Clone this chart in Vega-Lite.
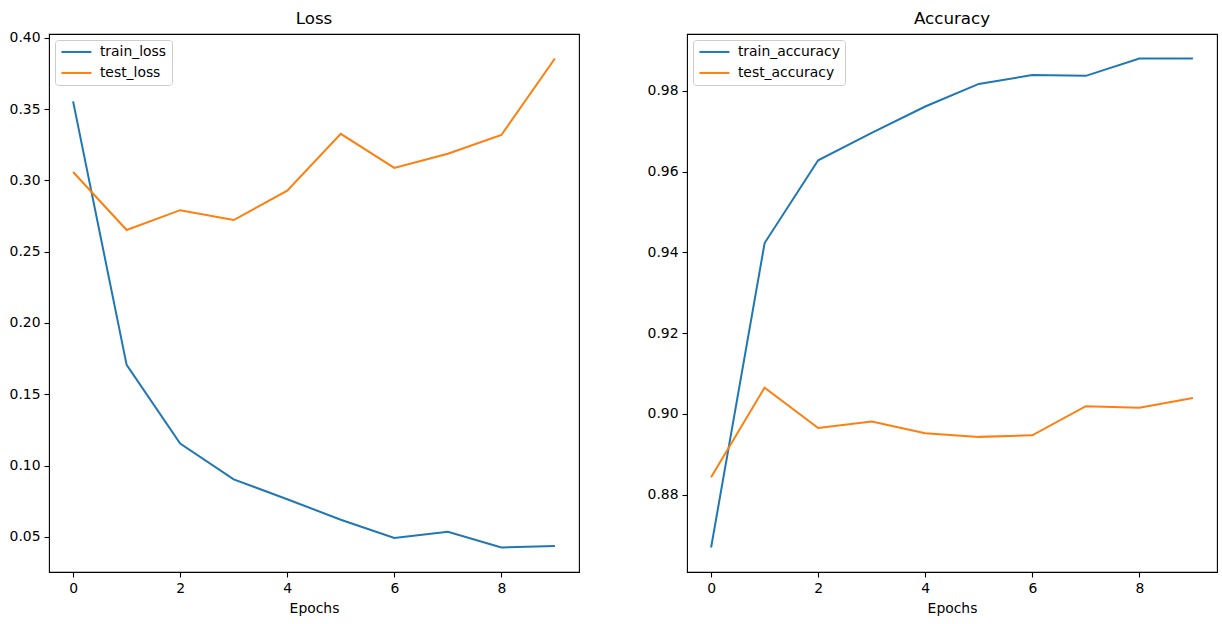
{
  "$schema": "https://vega.github.io/schema/vega-lite/v6.json",
  "background": "white",
  "padding": {"left": 8, "top": 10, "right": 8, "bottom": 5},
  "config": {
    "font": "DejaVu Sans",
    "view": {"stroke": "black", "strokeWidth": 1.1},
    "axis": {"grid": false, "domain": false, "tickColor": "black", "tickSize": 5, "tickWidth": 1.1, "labelColor": "black", "labelFontSize": 13.9, "titleFontSize": 13.9, "titleFontWeight": "normal", "titleColor": "black", "labelPadding": 4, "titlePadding": 7},
    "title": {"fontSize": 16.7, "fontWeight": "normal", "anchor": "middle", "baseline": "alphabetic", "frame": "group", "color": "black"},
    "legend": {"symbolType": "M-1,0H4.45", "symbolStrokeWidth": 2, "symbolSize": 121, "labelFontSize": 13.9, "labelColor": "black", "strokeColor": "#cccccc", "cornerRadius": 3, "padding": 5, "offset": 6, "rowPadding": 6, "labelOffset": 26, "fillColor": "white"}
  },
  "datasets": {
    "d": [
      {"panel": "Loss", "series": "train_loss", "epoch": 0, "value": 0.3554},
      {"panel": "Loss", "series": "train_loss", "epoch": 1, "value": 0.1706},
      {"panel": "Loss", "series": "train_loss", "epoch": 2, "value": 0.1154},
      {"panel": "Loss", "series": "train_loss", "epoch": 3, "value": 0.0903},
      {"panel": "Loss", "series": "train_loss", "epoch": 4, "value": 0.0764},
      {"panel": "Loss", "series": "train_loss", "epoch": 5, "value": 0.0620},
      {"panel": "Loss", "series": "train_loss", "epoch": 6, "value": 0.0492},
      {"panel": "Loss", "series": "train_loss", "epoch": 7, "value": 0.0536},
      {"panel": "Loss", "series": "train_loss", "epoch": 8, "value": 0.0425},
      {"panel": "Loss", "series": "train_loss", "epoch": 9, "value": 0.0436},
      {"panel": "Loss", "series": "test_loss", "epoch": 0, "value": 0.3059},
      {"panel": "Loss", "series": "test_loss", "epoch": 1, "value": 0.2652},
      {"panel": "Loss", "series": "test_loss", "epoch": 2, "value": 0.2791},
      {"panel": "Loss", "series": "test_loss", "epoch": 3, "value": 0.2722},
      {"panel": "Loss", "series": "test_loss", "epoch": 4, "value": 0.2928},
      {"panel": "Loss", "series": "test_loss", "epoch": 5, "value": 0.3326},
      {"panel": "Loss", "series": "test_loss", "epoch": 6, "value": 0.3087},
      {"panel": "Loss", "series": "test_loss", "epoch": 7, "value": 0.3187},
      {"panel": "Loss", "series": "test_loss", "epoch": 8, "value": 0.3318},
      {"panel": "Loss", "series": "test_loss", "epoch": 9, "value": 0.3855},
      {"panel": "Accuracy", "series": "train_accuracy", "epoch": 0, "value": 0.8669},
      {"panel": "Accuracy", "series": "train_accuracy", "epoch": 1, "value": 0.9423},
      {"panel": "Accuracy", "series": "train_accuracy", "epoch": 2, "value": 0.9628},
      {"panel": "Accuracy", "series": "train_accuracy", "epoch": 3, "value": 0.9696},
      {"panel": "Accuracy", "series": "train_accuracy", "epoch": 4, "value": 0.9761},
      {"panel": "Accuracy", "series": "train_accuracy", "epoch": 5, "value": 0.9817},
      {"panel": "Accuracy", "series": "train_accuracy", "epoch": 6, "value": 0.9839},
      {"panel": "Accuracy", "series": "train_accuracy", "epoch": 7, "value": 0.9837},
      {"panel": "Accuracy", "series": "train_accuracy", "epoch": 8, "value": 0.9880},
      {"panel": "Accuracy", "series": "train_accuracy", "epoch": 9, "value": 0.9880},
      {"panel": "Accuracy", "series": "test_accuracy", "epoch": 0, "value": 0.8843},
      {"panel": "Accuracy", "series": "test_accuracy", "epoch": 1, "value": 0.9065},
      {"panel": "Accuracy", "series": "test_accuracy", "epoch": 2, "value": 0.8965},
      {"panel": "Accuracy", "series": "test_accuracy", "epoch": 3, "value": 0.8981},
      {"panel": "Accuracy", "series": "test_accuracy", "epoch": 4, "value": 0.8952},
      {"panel": "Accuracy", "series": "test_accuracy", "epoch": 5, "value": 0.8943},
      {"panel": "Accuracy", "series": "test_accuracy", "epoch": 6, "value": 0.8947},
      {"panel": "Accuracy", "series": "test_accuracy", "epoch": 7, "value": 0.9019},
      {"panel": "Accuracy", "series": "test_accuracy", "epoch": 8, "value": 0.9015},
      {"panel": "Accuracy", "series": "test_accuracy", "epoch": 9, "value": 0.9039}
    ]
  },
  "spacing": 66,
  "resolve": {"scale": {"color": "independent", "x": "independent", "y": "independent"}, "legend": {"color": "independent"}},
  "hconcat": [
    {
      "title": {"text": "Loss", "offset": 3},
      "width": 530,
      "height": 538,
      "data": {"name": "d"},
      "transform": [{"filter": "datum.panel === 'Loss'"}],
      "mark": {"type": "line", "strokeWidth": 2},
      "encoding": {
        "x": {"field": "epoch", "type": "quantitative", "scale": {"domain": [-0.45, 9.45], "nice": false, "zero": false}, "axis": {"title": "Epochs", "values": [0, 2, 4, 6, 8], "format": "d"}},
        "y": {"field": "value", "type": "quantitative", "scale": {"domain": [0.02535, 0.40265], "nice": false, "zero": false}, "axis": {"title": null, "values": [0.05, 0.10, 0.15, 0.20, 0.25, 0.30, 0.35, 0.40], "format": ".2f"}},
        "color": {"field": "series", "type": "nominal", "sort": ["train_loss", "test_loss"], "scale": {"domain": ["train_loss", "test_loss"], "range": ["#1f77b4", "#ff7f0e"]}, "legend": {"title": null, "orient": "top-left"}}
      }
    },
    {
      "title": {"text": "Accuracy", "offset": 6},
      "width": 530,
      "height": 538,
      "data": {"name": "d"},
      "transform": [{"filter": "datum.panel === 'Accuracy'"}],
      "mark": {"type": "line", "strokeWidth": 2},
      "encoding": {
        "x": {"field": "epoch", "type": "quantitative", "scale": {"domain": [-0.45, 9.45], "nice": false, "zero": false}, "axis": {"title": "Epochs", "values": [0, 2, 4, 6, 8], "format": "d"}},
        "y": {"field": "value", "type": "quantitative", "scale": {"domain": [0.86084, 0.99406], "nice": false, "zero": false}, "axis": {"title": null, "values": [0.88, 0.90, 0.92, 0.94, 0.96, 0.98], "format": ".2f"}},
        "color": {"field": "series", "type": "nominal", "sort": ["train_accuracy", "test_accuracy"], "scale": {"domain": ["train_accuracy", "test_accuracy"], "range": ["#1f77b4", "#ff7f0e"]}, "legend": {"title": null, "orient": "top-left"}}
      }
    }
  ]
}
